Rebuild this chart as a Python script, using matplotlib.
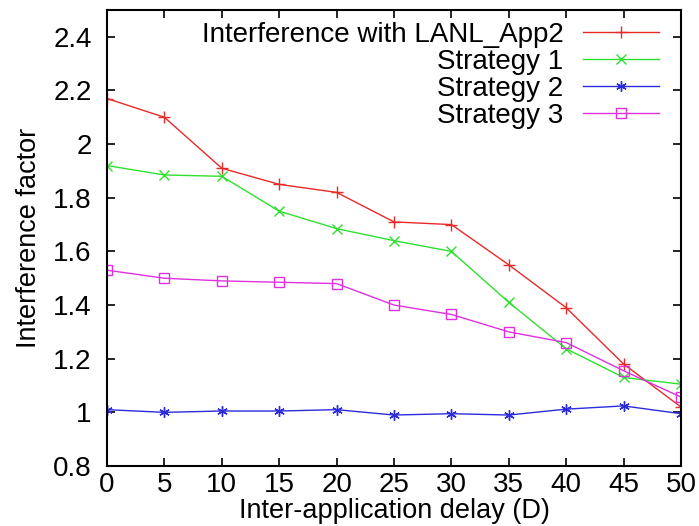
import matplotlib
matplotlib.use("Agg")
import matplotlib.pyplot as plt

plt.rcParams['font.family'] = ['Liberation Sans', 'DejaVu Sans']

delays = [0, 5, 10, 15, 20, 25, 30, 35, 40, 45, 50]
interference = [2.17, 2.10, 1.91, 1.85, 1.82, 1.71, 1.70, 1.55, 1.39, 1.18, 1.02]
strategy1 = [1.92, 1.885, 1.88, 1.75, 1.685, 1.64, 1.60, 1.41, 1.237, 1.13, 1.105]
strategy2 = [1.01, 1.0, 1.005, 1.005, 1.01, 0.99, 0.995, 0.99, 1.012, 1.024, 0.995]
strategy3 = [1.53, 1.50, 1.49, 1.485, 1.48, 1.40, 1.365, 1.30, 1.26, 1.155, 1.057]

labels = ["Interference with LANL_App2", "Strategy 1", "Strategy 2", "Strategy 3"]
xticks = [0, 5, 10, 15, 20, 25, 30, 35, 40, 45, 50]
yticks = [0.8, 1.0, 1.2, 1.4, 1.6, 1.8, 2.0, 2.2, 2.4]
yticklabels = ["0.8", "1", "1.2", "1.4", "1.6", "1.8", "2", "2.2", "2.4"]

FS = 20

fig = plt.figure(figsize=(6.99, 5.26), dpi=100)
ax = fig.add_axes([107 / 699, 60 / 526, 574 / 699, 456 / 526])

ax.plot(delays, interference, color='#e8292a', lw=1.0, marker='+', ms=8.5, mew=1.0, label=labels[0])
ax.plot(delays, strategy1, color='#2fe02f', lw=1.0, marker='x', ms=6.5, mew=1.0, label=labels[1])
ax.plot(delays, strategy2, color='#2b2bdc', lw=1.0, marker=(6, 2, 0), ms=7.5, mew=1.0, label=labels[2])
ax.plot(delays, strategy3, color='#e030e0', lw=1.0, marker='s', ms=6.5, mew=1.0,
        mfc='none', label=labels[3])

ax.set_xlim(0, 50)
ax.set_ylim(0.8, 2.5)
ax.set_xticks(xticks)
ax.set_yticks(yticks)
ax.set_yticklabels(yticklabels)
ax.tick_params(direction='in', length=6, width=1.2, top=True, right=True,
               labelsize=FS)
ax.tick_params(axis='x', pad=4)
ax.tick_params(axis='y', pad=11)
for s in ax.spines.values():
    s.set_linewidth(1.5)

ax.set_xlabel("Inter-application delay (D)", fontsize=19.5, labelpad=0)
ax.set_ylabel("Interference factor", fontsize=19.5, labelpad=8)

ax.legend(loc='upper right', bbox_to_anchor=(0.962, 0.974), frameon=False,
          markerfirst=False, fontsize=FS, handlelength=2.75, handletextpad=0.7,
          labelspacing=0.04, borderpad=0, borderaxespad=0)

fig.savefig("out.png", dpi=100)
